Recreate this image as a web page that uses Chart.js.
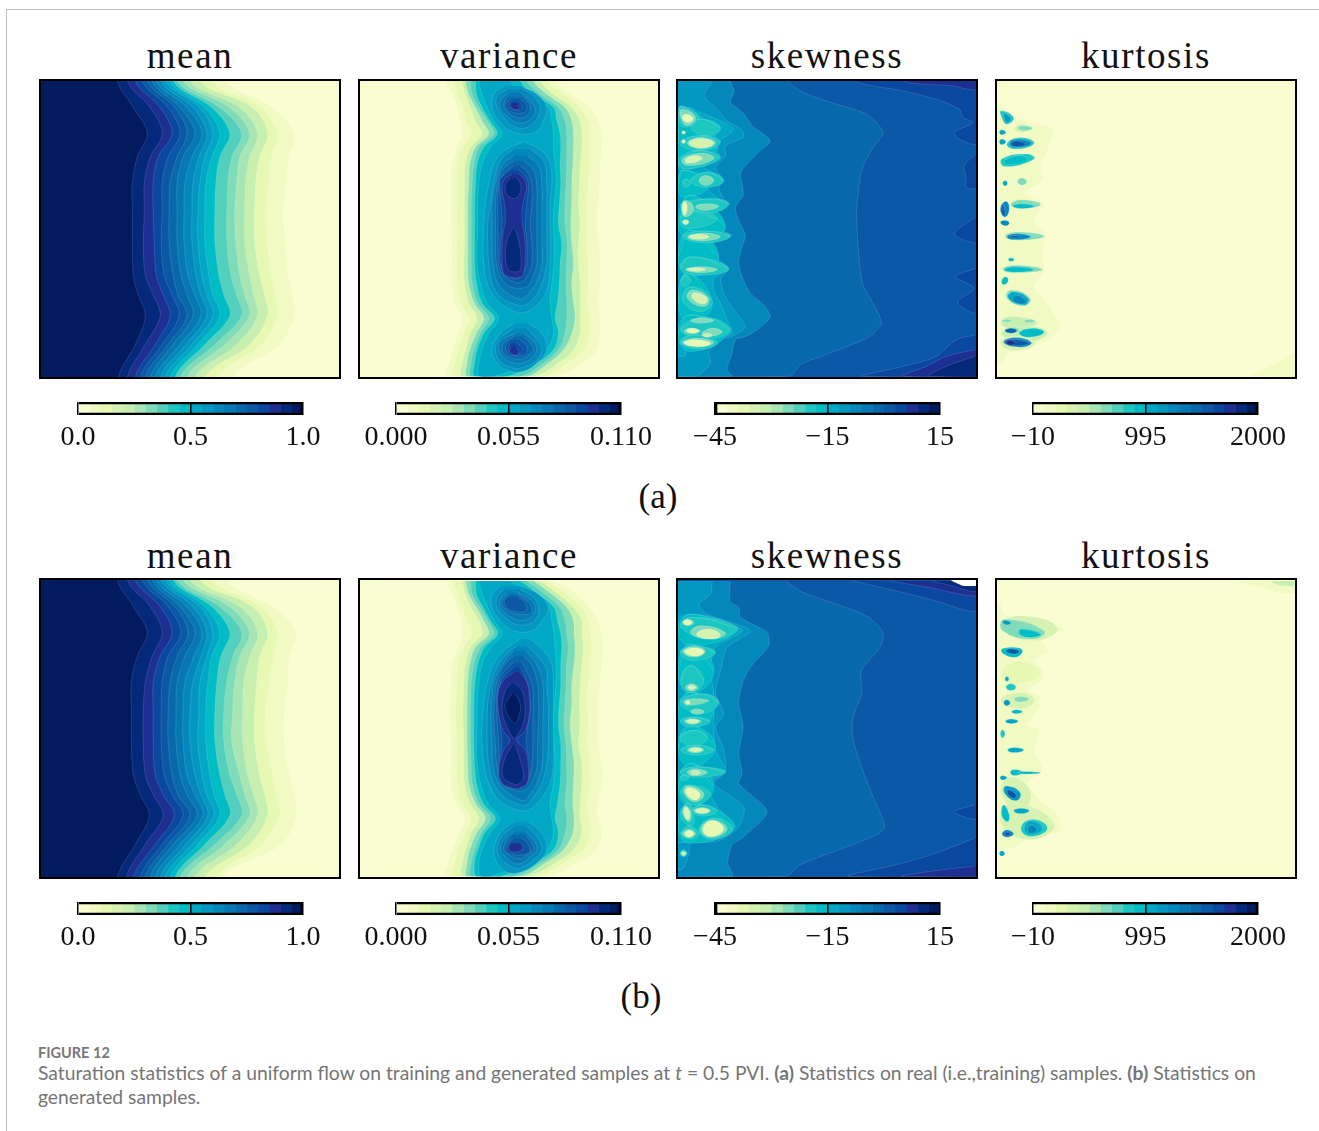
<!DOCTYPE html>
<html lang="en">
<head>
<meta charset="UTF-8">
<title>Figure 12</title>
<style>
  html, body { margin: 0; background: #fff; }
  body { position: relative; width: 1319px; height: 1131px; overflow: hidden; }
  .rule-top { position: absolute; left: 6px; top: 9px; width: 1313px; height: 1px; background: #bdbdbd; }
  .rule-left { position: absolute; left: 6px; top: 9px; width: 1px; height: 1122px; background: #bdbdbd; }
  .frame { position: absolute; width: 302px; box-sizing: border-box; border: 2px solid #000; }
  .frame canvas { position: absolute; left: 0; top: 0; }
  .bar { position: absolute; }
  .title, .sub { position: absolute; font-family: 'Liberation Serif', serif; color: #111; transform: translateX(-50%); white-space: nowrap; }
  .title { font-size: 37px; letter-spacing: 1.6px; }
  .sub { font-size: 35px; }
  .caption { position: absolute; left: 38px; top: 1044px; width: 1270px; font-family: Lato, sans-serif; color: #757575; font-size: 19.3px; line-height: 24px; }
  .caption .fig { display: block; font-size: 14.5px; font-weight: 700; line-height: 17px; color: #777; }
</style>
</head>
<body>
<div class="rule-top"></div>
<div class="rule-left"></div>
<div id="page"></div>
<div class="caption">
  <span class="fig">FIGURE 12</span>
  Saturation statistics of a uniform flow on training and generated samples at <i>t</i> = 0.5 PVI. <b>(a)</b> Statistics on real (i.e.,training) samples. <b>(b)</b> Statistics on<br>generated samples.
</div>

<script src="https://cdn.jsdelivr.net/npm/chart.js"></script>
<script>
// colour levels of the colourbars, low to high
const levels = ['#fafdd1','#f1fac2','#e6f8b2','#d6f2b1','#c6efb0','#a8e5b4','#80dbb8','#52d0bd','#1cc7c2','#00bcc4',
                '#00a8c6','#0298c2','#0488bc','#0678b4','#0868ac','#0a58a6','#0a48a0','#1e2f92','#04287a','#021a5e'];

const titles = ['mean', 'variance', 'skewness', 'kurtosis'];
const barRanges = [[0, 1], [0, 0.11], [-45, 15], [-10, 2000]];
const barTicks = [[0, 0.5, 1], [0, 0.055, 0.11], [-45, -15, 15], [-10, 995, 2000]];
const barLabels = [['0.0', '0.5', '1.0'], ['0.000', '0.055', '0.110'], ['\u221245', '\u221215', '15'], ['\u221210', '995', '2000']];

// mean: position of each contour per row, grid 0-300
const meanRows = [0, 27, 53, 77, 103, 133, 163, 197, 217, 238, 267, 300];
const meanLevels = [19, 18, 17, 16, 15, 14, 13, 12, 11, 10, 9, 7, 6, 5, 4, 2, 1];
const meanA = [
  [77,93,107,97,92,92,92,93,98,105,95,78],
  [87,110,122,110,104,104,103,105,113,120,105,87],
  [95,120,132,118,113,113,114,116,123,130,115,95],
  [102,128,140,128,122,122,121,124,132,139,122,100],
  [107,135,147,137,130,129,129,133,138,147,128,105],
  [112,140,155,143,137,137,137,141,147,153,133,110],
  [116,147,162,152,145,144,144,148,155,161,140,115],
  [121,153,167,159,153,152,152,156,161,167,146,120],
  [125,160,173,165,160,158,158,162,167,173,152,125],
  [129,165,180,172,166,165,165,169,173,180,158,130],
  [133,172,190,180,176,175,175,179,184,190,165,135],
  [137,180,202,192,188,187,187,191,197,202,175,140],
  [143,190,210,200,197,195,196,200,205,210,185,147],
  [150,200,218,210,206,205,205,210,214,218,197,155],
  [160,213,228,220,216,215,215,220,225,228,210,165],
  [172,222,238,232,229,227,228,232,236,238,222,178],
  [187,233,255,250,247,244,246,249,253,255,240,193]
];
const meanB = [
  [77,93,107,97,91,91,91,93,100,109,95,77],
  [87,110,122,112,105,103,103,105,113,123,105,86],
  [95,120,132,120,113,113,113,115,123,134,115,93],
  [102,128,141,128,122,121,121,124,132,143,122,100],
  [107,135,148,137,130,128,128,132,138,150,128,105],
  [112,140,155,145,137,136,136,140,147,157,133,110],
  [116,147,162,154,145,143,143,147,155,163,140,115],
  [121,153,167,161,153,150,150,155,161,168,146,120],
  [125,160,173,167,160,159,158,162,167,174,152,125],
  [129,165,180,172,168,166,166,170,174,180,158,130],
  [133,172,190,181,177,175,175,180,185,190,165,135],
  [137,180,202,193,187,184,184,190,197,202,175,140],
  [143,190,210,200,195,193,192,200,205,210,185,147],
  [150,200,218,210,204,203,203,208,214,218,197,155],
  [160,213,228,220,217,215,215,220,225,228,210,165],
  [172,222,238,234,230,226,227,233,237,240,222,178],
  [187,233,257,250,249,245,245,250,255,257,242,183]
];

// variance: outer contours, [level, left edge, right edge] per row
const varRows = [30,70,110,150,190,230,280,340,400,460,520,580,640,700,745,790,840,880,920];
const varOuterA = [
  [1,[285,305,320,328,335,320,305,300,300,302,303,303,303,312,335,322,305,295,285],[615,660,720,745,755,755,752,750,745,740,748,750,750,745,750,750,740,700,610]],
  [2,[310,320,335,345,360,335,320,318,318,320,320,320,320,330,355,340,322,312,305],[590,640,690,715,720,720,718,715,712,712,712,715,715,712,718,718,700,650,580]],
  [4,[335,345,360,375,395,360,345,342,342,342,342,340,342,355,380,360,345,335,335],[570,610,665,690,695,695,690,688,685,690,685,685,690,690,690,690,670,625,550]],
  [6,[345,355,375,395,415,375,358,355,352,352,352,352,355,372,400,378,358,350,350],[550,590,645,665,670,670,668,665,665,662,665,670,665,670,675,665,640,595,530]],
  [7,[360,365,385,410,430,385,370,365,362,362,362,362,365,382,415,390,370,362,362],[530,570,625,645,650,650,650,648,645,645,652,650,648,650,650,645,625,580,510]],
  [9,[375,378,395,418,440,400,380,375,372,372,372,372,378,395,432,400,380,372,372],[510,550,610,620,630,632,630,632,628,625,635,630,628,622,615,625,610,560,470]],
  [10,[385,395,410,430,455,420,395,385,382,382,380,380,390,410,445,415,395,385,385],[480,530,595,605,610,610,615,618,612,610,612,612,605,600,605,610,590,540,430]]
];
const varOuterB = [
  [1,[285,305,320,330,335,325,305,300,298,298,300,300,300,315,342,325,305,292,285],[615,680,720,745,755,758,755,750,745,745,745,755,755,745,745,755,740,680,590]],
  [2,[310,320,335,350,362,340,322,318,316,316,318,318,320,332,360,342,322,312,305],[590,650,695,715,722,725,720,715,712,715,712,720,722,712,718,722,700,640,560]],
  [4,[335,345,362,385,395,360,345,340,338,338,340,340,342,358,385,362,345,335,335],[570,625,670,695,695,700,695,690,688,690,685,695,695,690,690,695,670,615,530]],
  [6,[345,355,378,400,415,375,358,352,350,350,350,352,355,375,405,378,358,350,350],[550,605,650,670,672,675,672,665,665,660,665,672,670,668,672,668,640,585,510]],
  [7,[360,365,388,412,430,390,370,362,360,360,360,362,365,385,420,392,372,362,362],[530,585,630,645,650,655,650,648,645,642,648,650,650,645,650,645,625,570,490]],
  [9,[375,378,398,420,442,402,382,373,370,370,370,372,378,398,435,402,382,372,378],[510,565,612,622,632,635,632,632,628,625,632,632,630,622,615,625,610,550,450]],
  [10,[385,395,412,432,455,422,395,385,380,380,378,380,390,412,448,418,395,385,390],[480,545,598,605,612,615,618,618,612,610,612,615,610,600,605,610,590,530,420]]
];
// variance: closed islands, [level, [row, left, right], ...]
const varIslandsA = [
  [11,[45,460,510],[70,430,560],[110,425,590],[150,445,580],[185,490,555]],
  [11,[215,515,525],[240,460,575],[280,430,600],[340,415,605],[400,405,600],[460,400,600],[520,398,602],[580,400,600],[640,410,595],[690,440,575],[725,495,530]],
  [11,[760,490,535],[790,450,575],[840,425,590],[880,440,560],[905,480,520]],
  [12,[55,470,520],[75,440,550],[110,440,570],[145,465,560],[170,500,530]],
  [12,[235,490,540],[270,450,580],[340,430,590],[400,420,590],[460,412,590],[520,412,590],[580,415,590],[640,425,575],[680,450,555],[705,500,525]],
  [12,[775,490,530],[810,445,560],[840,435,575],[875,450,555],[895,490,510]],
  [13,[65,475,510],[90,450,540],[115,450,555],[140,475,545],[155,500,525]],
  [13,[255,490,530],[285,455,565],[340,435,575],[400,425,575],[460,425,575],[520,425,575],[580,428,575],[635,440,560],[665,465,540],[685,500,520]],
  [13,[790,495,520],[815,450,550],[840,445,560],[868,465,540],[880,490,515]],
  [14,[80,470,520],[105,460,540],[130,480,535],[140,500,520]],
  [14,[270,490,520],[300,455,550],[350,440,560],[400,435,560],[460,435,560],[520,435,560],[580,438,560],[620,450,548],[650,480,530]],
  [14,[800,490,520],[820,460,540],[840,455,550],[860,470,530],[868,495,510]],
  [15,[85,480,510],[105,465,530],[125,490,520]],
  [15,[285,490,510],[310,460,535],[350,445,545],[400,442,545],[460,443,540],[520,443,545],[580,445,545],[610,455,535],[635,490,515]],
  [15,[810,480,510],[830,465,530],[855,475,525],[858,495,505]],
  [16,[92,485,505],[105,475,515],[118,495,510]],
  [16,[298,480,505],[325,450,530],[350,448,535],[400,452,530],[460,455,525],[520,450,530],[580,450,530],[605,465,520],[625,490,505]],
  [16,[820,480,500],[835,473,515],[850,480,510]],
  [17,[97,480,505],[105,480,505],[115,490,505]],
  [17,[310,485,505],[330,460,525],[360,455,528],[400,462,518],[450,465,515],[490,458,522],[550,455,525],[610,460,520],[622,485,505]],
  [17,[830,482,498],[845,478,505],[855,490,500]],
  [18,[323,480,500],[345,465,512],[370,468,508],[383,485,495]],
  [18,[478,485,495],[510,470,505],[560,465,512],[600,475,510],[605,490,500]]
];
const varIslandsB = [
  [11,[45,450,510],[70,425,565],[110,425,595],[150,450,575],[180,490,545]],
  [11,[205,510,540],[240,460,580],[280,430,605],[340,410,610],[400,400,610],[460,395,610],[520,395,610],[580,400,610],[640,415,600],[690,445,570],[720,500,535]],
  [11,[755,490,535],[790,450,575],[840,430,590],[880,440,560],[908,470,510]],
  [12,[55,460,510],[80,440,550],[110,440,565],[140,465,560],[160,495,535]],
  [12,[225,500,530],[260,460,565],[300,435,590],[350,420,590],[400,412,595],[460,410,595],[520,410,595],[580,415,590],[640,430,575],[680,460,550],[705,510,530]],
  [12,[770,490,530],[800,455,560],[840,440,575],[870,455,550],[895,490,510]],
  [13,[65,470,500],[85,450,540],[110,450,555],[135,475,545],[148,505,525]],
  [13,[240,490,525],[275,460,555],[320,435,575],[380,425,580],[450,422,578],[520,425,578],[590,428,575],[640,445,560],[670,475,540],[690,510,525]],
  [13,[785,490,525],[810,460,550],[840,450,560],[860,465,540],[880,490,515]],
  [14,[72,475,505],[90,455,530],[110,460,545],[128,490,540]],
  [14,[255,490,520],[285,460,545],[330,440,560],[390,432,565],[450,430,565],[520,435,562],[590,440,560],[635,455,545],[660,490,525]],
  [14,[795,485,525],[820,465,545],[840,460,550],[855,475,530],[865,495,515]],
  [15,[80,470,505],[90,462,520],[110,468,530],[122,495,525]],
  [15,[275,490,515],[305,460,530],[340,445,545],[400,438,550],[450,440,548],[520,445,548],[590,448,545],[630,465,535],[650,495,515]],
  [15,[805,490,515],[825,470,535],[845,468,540],[855,490,520]],
  [16,[290,490,510],[320,460,525],[360,445,535],[410,442,540],[470,450,532],[520,455,528],[590,445,540],[630,460,530],[645,490,510]],
  [17,[305,490,510],[335,455,530],[380,442,538],[430,445,538],[480,458,525],[510,478,500],[540,460,525],[600,445,535],[640,455,530],[655,490,505]],
  [17,[820,480,510],[833,475,518],[845,480,505]],
  [18,[340,480,495],[360,465,515],[420,455,525],[470,470,515],[505,490,495]],
  [18,[525,485,495],[570,462,510],[620,458,520],[642,490,505]],
  [19,[370,485,495],[400,465,510],[430,470,508],[458,490,498]]
];

// skewness / kurtosis: left attached bands, [level, row, x, row, x, ...]
const skewBandsA = [
  [14, 30,355, 65,400, 100,500, 130,590, 185,640, 230,610, 300,575, 370,565, 430,560, 530,565, 640,578, 700,610, 760,635, 800,600, 850,480, 885,390, 920,358],
  [12, 30,180, 60,190, 95,180, 115,205, 135,225, 165,245, 210,300, 240,270, 285,225, 310,210, 340,215, 375,218, 410,195, 450,205, 495,225, 530,215, 575,205, 620,215, 670,240, 700,275, 740,300, 780,260, 800,225, 810,195, 850,185, 900,170, 920,185],
  [11, 30,125, 75,100, 110,135, 150,170, 178,215, 200,218, 225,165, 255,165, 290,135, 325,155, 355,145, 385,160, 400,175, 425,135, 470,130, 495,185, 520,130, 560,135, 595,175, 625,150, 670,160, 720,190, 770,225, 800,185, 810,140, 850,115, 880,120, 920,75],
  [10, 108,55, 125,90, 150,150, 175,190, 210,150, 240,140, 265,150, 290,100, 320,150, 350,110, 385,145, 400,170, 430,120, 480,135, 495,180, 510,130, 560,110, 595,170, 625,130, 665,130, 700,150, 750,170, 790,185, 810,130, 840,50, 860,40]
];
const skewBandsB = [
  [14, 30,345, 65,400, 100,500, 135,590, 185,640, 230,630, 300,575, 370,575, 440,550, 500,548, 590,575, 680,610, 770,645, 795,620, 850,480, 885,390, 920,345],
  [12, 30,180, 90,178, 110,205, 140,210, 185,290, 225,295, 290,240, 340,215, 400,205, 470,218, 550,205, 610,215, 640,205, 725,290, 805,215, 825,185, 880,172, 920,185],
  [11, 30,125, 70,120, 100,85, 130,110, 180,240, 230,170, 300,150, 370,135, 430,160, 470,135, 540,160, 605,165, 640,130, 710,220, 770,205, 815,140, 820,60, 850,55, 900,30],
  [10, 130,70, 150,145, 180,215, 230,135, 300,120, 370,130, 430,130, 470,130, 540,135, 605,165, 640,110, 710,140, 770,195, 810,130, 818,40]
];
const kurtBandsA = [
  [1, 100,30, 140,70, 175,190, 210,180, 250,165, 290,150, 330,155, 370,100, 400,160, 450,130, 490,165, 540,155, 600,160, 650,130, 700,170, 770,210, 800,185, 830,130, 850,50, 880,35]
];
const kurtBandsB = [
  [1, 100,30, 130,40, 145,110, 175,220, 205,150, 240,170, 270,130, 300,155, 330,150, 360,110, 380,150, 420,140, 465,110, 480,145, 540,130, 600,155, 640,110, 700,160, 740,205, 785,205, 810,110, 840,50]
];
// right attached bands
const skewEdgesA = [
  [16, 30,555, 60,700, 85,800, 115,870, 140,880, 155,912, 185,855, 205,870, 222,918],
  [17, 30,700, 45,850, 58,918],
  [16, 250,918, 285,885, 320,890, 350,890, 355,918],
  [16, 440,918, 490,855, 518,918],
  [16, 595,918, 620,858, 655,915, 695,865, 730,918],
  [16, 795,918, 810,860, 860,800, 890,700, 920,580],
  [17, 840,915, 860,830, 890,770, 920,700],
  [18, 860,915, 890,830, 920,780]
];
const skewEdgesB = [
  [16, 30,550, 60,680, 90,800, 122,915],
  [17, 30,660, 50,780, 75,915],
  [18, 30,790, 45,850, 62,915],
  [16, 705,915, 725,855, 748,915],
  [16, 805,915, 850,800, 885,680, 920,540],
  [17, 890,915, 900,820, 920,700]
];
const kurtEdgesA = [
  [1, 850,905, 870,880, 900,820, 920,780]
];
const kurtEdgesB = [
  [1, 30,720, 45,800, 68,880],
  [4, 30,840, 45,875]
];
const skewWhiteB = [[27,845,930],[34,856,930],[44,880,930],[45,930,930]];
// skewness / kurtosis: blobs, [level, top row, top x, middle row, left, right, bottom row, bottom x]
const skewBlobsA = [
  [9,105,30,220,22,140,300,30],[9,300,40,340,22,120,380,40],[9,375,60,470,22,165,500,60],[9,480,60,560,22,145,620,60],[9,610,50,700,22,125,760,60],[9,735,60,790,22,165,845,60],
  [8,108,30,140,25,85,170,40],[8,145,90,170,60,150,195,110],[8,195,90,215,28,150,240,80],[8,240,90,262,28,148,295,40],
  [8,305,110,330,60,160,350,110],[8,325,45,338,35,60,350,45],[8,385,130,402,30,175,428,110],[8,420,50,445,28,140,475,50],
  [8,482,100,498,35,180,518,100],[8,560,60,595,30,175,615,90],[8,615,45,632,30,60,650,40],[8,650,60,690,35,125,725,90],
  [8,742,100,780,30,180,805,110],[8,795,70,818,28,140,838,90],
  [6,115,35,140,30,75,165,50],[6,200,90,217,50,135,235,90],[6,248,100,265,35,130,285,50],[6,315,105,330,85,130,345,105],
  [6,390,45,415,32,70,440,45],[6,400,110,408,75,145,420,100],[6,488,100,500,50,150,512,90],[6,590,90,598,45,140,608,90],
  [6,660,65,685,50,115,710,100],[6,775,130,788,95,155,800,105],[6,745,90,752,60,130,760,90],[6,775,60,784,40,90,792,60],[6,805,80,818,35,130,832,80],
  [2,130,45,142,35,68,155,52],[2,180,39,185,33,45,190,39],[2,207,39,212,33,45,218,39],[3,203,90,217,55,130,232,90],
  [3,255,80,265,45,95,278,50],[2,392,42,412,35,50,435,42],[3,448,45,455,35,55,463,45],[3,492,85,499,55,115,507,85],
  [3,593,80,598,50,105,604,80],[3,668,70,685,65,110,702,100],[2,775,65,782,48,85,790,65],[2,810,70,820,40,120,830,90],[4,790,110,796,95,125,802,110]
];
const skewBlobsB = [
  [9,130,60,180,22,190,225,60],[9,220,60,300,22,130,370,60],[9,365,60,420,22,130,475,60],[9,465,60,530,22,135,590,60],[9,580,60,650,22,130,710,60],[9,700,60,770,22,190,820,60],
  [8,140,60,170,30,200,205,130],[8,225,70,245,28,135,270,70],[8,285,60,330,30,100,365,60],[8,370,90,395,28,145,430,90],
  [8,440,65,453,28,120,470,65],[8,480,70,500,28,110,530,70],[8,525,75,539,30,130,555,75],[8,590,80,605,28,165,622,80],[8,615,40,623,28,55,632,40],
  [8,645,50,670,30,120,705,70],[8,700,50,735,30,70,770,60],[8,705,95,722,60,140,738,95],[8,745,130,778,85,185,808,120],[8,770,55,792,30,85,808,55],[8,840,38,851,28,50,862,38],
  [6,145,50,155,35,70,165,50],[6,165,90,187,60,165,205,120],[6,228,70,242,35,105,260,70],[6,340,62,351,45,82,362,62],[6,385,80,392,40,115,405,50],
  [6,416,80,424,60,100,432,80],[6,445,65,453,40,92,462,65],[6,530,75,539,50,100,548,75],[6,596,70,607,50,110,618,70],
  [6,648,50,670,40,100,695,75],[6,708,45,730,36,62,755,55],[6,713,95,722,68,120,732,95],[6,750,125,778,90,170,803,120],[6,778,55,792,35,75,804,55],
  [2,147,50,155,38,64,163,50],[3,175,110,192,78,150,205,125],[2,232,70,243,42,100,256,75],[3,345,62,351,52,75,358,62],[2,390,52,396,45,58,402,52],
  [3,447,65,453,48,85,460,65],[3,533,75,539,56,95,545,75],[4,600,72,607,60,90,615,72],[2,653,52,670,46,88,690,75],
  [3,715,95,722,75,115,730,95],[3,712,45,730,40,58,750,52],[2,752,125,778,97,160,800,120],[2,782,55,792,42,70,802,55],[3,845,38,851,32,46,858,38]
];
const kurtBlobsA = [
  [4,740,60,760,30,140,775,60],[4,770,120,790,30,170,815,110],[3,800,70,820,28,135,842,70],[3,160,90,172,70,125,185,90],
  [8,120,30,140,32,68,160,48],[11,128,38,142,40,60,155,48],[6,165,95,172,80,125,180,100],
  [10,177,32,185,25,45,192,32],[10,205,32,213,25,45,222,32],
  [8,200,90,218,48,130,235,70],[12,205,80,218,55,122,230,75],[15,210,75,220,60,105,228,75],
  [8,250,110,265,32,130,288,42],[9,255,90,268,42,112,282,48],
  [6,322,93,333,80,108,344,93],[10,330,43,338,35,50,346,43],
  [6,388,90,402,60,150,415,90],[9,400,90,407,65,130,414,95],[12,392,45,415,28,55,440,42],[14,400,35,420,30,42,438,40],
  [12,450,40,457,28,55,466,45],[6,485,80,498,42,160,510,80],[12,490,75,499,48,120,508,70],[14,495,70,499,58,90,503,70],
  [9,563,60,568,52,70,574,60],[6,585,70,598,35,155,608,70],[9,590,70,598,40,130,606,70],
  [9,620,44,632,32,52,644,38],[6,660,60,685,48,118,708,100],[10,665,65,685,52,112,705,100],[12,675,75,690,65,105,702,95],
  [6,748,50,752,32,62,757,50],[6,748,115,753,100,132,758,115],
  [9,775,130,788,85,160,802,110],[6,772,70,781,40,85,790,65],[14,775,60,782,42,78,790,60],
  [12,803,70,818,38,122,832,90],[15,808,60,818,42,115,828,80],[17,810,55,818,46,75,826,60]
];
const kurtBlobsB = [
  [3,135,80,170,30,200,210,130],[2,270,80,310,30,150,340,60],[3,365,90,390,30,130,415,90],[3,620,60,670,30,120,720,90],[3,700,60,760,30,190,810,120],
  [6,145,40,180,35,160,205,130],[9,175,90,190,85,150,200,120],[11,148,40,155,35,60,162,50],
  [9,230,65,240,30,95,260,70],[15,234,60,241,45,85,250,70],[8,340,60,350,45,75,360,60],[10,318,48,325,42,54,332,48],
  [6,378,90,385,70,115,395,85],[11,388,47,397,38,58,406,47],[9,418,75,424,62,95,430,75],[10,446,60,453,43,82,460,60],
  [8,478,35,490,28,42,502,35],[10,532,70,539,50,98,547,70],[9,598,70,606,58,95,616,70],[9,604,100,608,80,150,612,100],[10,616,35,623,27,48,630,35],
  [11,648,45,668,40,88,692,75],[15,658,50,672,50,75,685,70],[9,705,38,735,32,55,755,50],[10,715,90,722,68,115,731,90],
  [8,748,125,775,90,170,800,120],[10,752,120,775,100,155,795,120],[12,765,120,777,110,140,790,120],
  [12,780,48,792,33,68,802,48],[15,786,48,792,40,60,798,48],[10,843,32,851,25,42,859,32]
];

const CONTOUR = 'rgba(255,255,255,0.22)';
const OUT = 2000; // far outside the panel, the axes clip it

function rowPoints(rows, yMin, yMax) {
  const r = rows.slice();
  if (r[0][0] <= yMin) r.unshift([yMin - 40, r[0][1], r[0][2]]);
  if (r[r.length - 1][0] >= yMax) r.push([yMax + 40, r[r.length - 1][1], r[r.length - 1][2]]);
  const pts = r.map(p => ({ x: p[1], y: p[0] }));
  r.slice().reverse().forEach(p => pts.push({ x: p[2], y: p[0] }));
  return pts;
}

function shape(color, data, tension) {
  return {
    data: data,
    showLine: true,
    fill: 'shape',
    tension: tension,
    pointRadius: 0,
    borderWidth: 0.6,
    borderColor: CONTOUR,
    backgroundColor: color
  };
}

function bandRows(flat, side) {
  const rows = [];
  for (let i = 1; i < flat.length; i += 2) {
    rows.push(side === 'left' ? [flat[i], -OUT, flat[i + 1]] : [flat[i], flat[i + 1], OUT]);
  }
  return rows;
}

// a blob runs round once and a bit, so the curve has no tip where the path closes
function blobPoints(b) {
  const top = { x: b[2], y: b[1] }, left = { x: b[4], y: b[3] };
  const bottom = { x: b[7], y: b[6] }, right = { x: b[5], y: b[3] };
  return [right, top, left, bottom, right, top, left].map(p => ({ x: p.x, y: p.y }));
}

function meanSets(curves) {
  // the widest contour goes first, the darkest ends on top
  const out = [];
  for (let i = curves.length - 1; i >= 0; i--) {
    const rows = meanRows.map((y, j) => [y, -OUT, curves[i][j]]);
    out.push(shape(levels[meanLevels[i]], rowPoints(rows, 0, 300), 0.35));
  }
  return out;
}

function varSets(outer, islands, yMin, yMax) {
  const out = outer.map(o => shape(levels[o[0]], rowPoints(varRows.map((y, j) => [y, o[1][j], o[2][j]]), yMin, yMax), 0.35));
  islands.forEach(s => out.push(shape(levels[s[0]], rowPoints(s.slice(1), yMin, yMax), 0.4)));
  return out;
}

function patchSets(edges, bands, blobs, yMin, yMax) {
  const out = [];
  edges.forEach(e => out.push(shape(levels[e[0]], rowPoints(bandRows(e, 'right'), yMin, yMax), 0.3)));
  bands.forEach(b => out.push(shape(levels[b[0]], rowPoints(bandRows(b, 'left'), yMin, yMax), 0.25)));
  blobs.forEach(b => out.push(shape(levels[b[0]], blobPoints(b), 0.5)));
  return out;
}

function drawPanel(left, top, height, xRange, yRange, base, sets) {
  const frame = document.createElement('div');
  frame.className = 'frame';
  frame.style.left = (left - 1) + 'px';
  frame.style.top = top + 'px';
  frame.style.height = height + 'px';
  frame.style.background = base;
  const canvas = document.createElement('canvas');
  frame.appendChild(canvas);
  document.getElementById('page').appendChild(frame);
  canvas.width = 298; canvas.height = height - 4;
  canvas.style.width = '298px'; canvas.style.height = (height - 4) + 'px';
  sets.forEach((d, i) => { d.order = -i; });
  new Chart(canvas, {
    type: 'scatter',
    data: { datasets: sets },
    options: {
      responsive: false,
      animation: false,
      events: [],
      layout: { padding: 0 },
      plugins: { legend: { display: false }, tooltip: { enabled: false } },
      scales: {
        x: { type: 'linear', display: false, min: xRange[0], max: xRange[1] },
        y: { type: 'linear', display: false, reverse: true, min: yRange[0], max: yRange[1] }
      }
    }
  });
}

function drawBar(left, top, col) {
  const range = barRanges[col];
  const pad = 44;
  const canvas = document.createElement('canvas');
  canvas.className = 'bar';
  canvas.style.left = (left - pad) + 'px';
  canvas.style.top = top + 'px';
  canvas.style.width = (225 + 2 * pad) + 'px';
  canvas.style.height = '56px';
  canvas.width = 225 + 2 * pad; canvas.height = 56;
  document.getElementById('page').appendChild(canvas);
  const step = (range[1] - range[0]) / levels.length;
  const sets = levels.map((c, i) => ({
    data: [[range[0] + i * step, range[0] + (i + 1) * step]],
    backgroundColor: c, borderWidth: 0, grouped: false, barPercentage: 1, categoryPercentage: 1, order: 2
  }));
  sets.push({ data: [[range[0], range[1]]], backgroundColor: 'rgba(0,0,0,0)', borderColor: '#000', borderWidth: 2, grouped: false,
    barPercentage: 1, categoryPercentage: 1, order: 1 });
  new Chart(canvas, {
    type: 'bar',
    data: { labels: [''], datasets: sets },
    options: {
      indexAxis: 'y',
      responsive: false,
      animation: false,
      events: [],
      layout: { padding: { left: pad, right: pad, top: 1, bottom: 0 } },
      plugins: { legend: { display: false }, tooltip: { enabled: false } },
      scales: {
        x: {
          type: 'linear', min: range[0], max: range[1],
          afterBuildTicks: s => { s.ticks = barTicks[col].map(v => ({ value: v })); },
          afterFit: s => { s.height = 42; },
          border: { display: false },
          grid: { color: '#000', lineWidth: 1.5, z: 1, drawTicks: false },
          ticks: {
            autoSkip: false, maxRotation: 0, padding: 6, color: '#111',
            font: { family: "'Liberation Serif', serif", size: 28 },
            callback: (v, i) => barLabels[col][i]
          }
        },
        y: { display: false }
      }
    }
  });
}

function addText(cls, text, x, y) {
  const el = document.createElement('div');
  el.className = cls;
  el.textContent = text;
  el.style.left = x + 'px';
  el.style.top = y + 'px';
  document.getElementById('page').appendChild(el);
}

const panelLeft = [40, 359, 677, 996];
const barLeft = [78, 396, 715, 1033];
const pale = levels[0];
const skewExtraB = [shape('#ffffff', rowPoints(skewWhiteB, 27, 922), 0.2)];
const rowsPanels = [
  { top: 79, height: 300, titleTop: 34, barTop: 401, sets: [
    [[0, 300], [0, 300], pale, meanSets(meanA)],
    [[27, 925], [30, 922], pale, varSets(varOuterA, varIslandsA, 30, 922)],
    [[22, 920], [30, 922], levels[15], patchSets(skewEdgesA, skewBandsA, skewBlobsA, 30, 922)],
    [[18, 916], [30, 922], pale, patchSets(kurtEdgesA, kurtBandsA, kurtBlobsA, 30, 922)]
  ] },
  { top: 578, height: 301, titleTop: 534, barTop: 901, sets: [
    [[0, 300], [0, 300], pale, meanSets(meanB)],
    [[27, 925], [27, 922], pale, varSets(varOuterB, varIslandsB, 27, 922)],
    [[22, 920], [27, 922], levels[15], patchSets(skewEdgesB, skewBandsB, skewBlobsB, 27, 922).concat(skewExtraB)],
    [[18, 916], [27, 922], pale, patchSets(kurtEdgesB, kurtBandsB, kurtBlobsB, 27, 922)]
  ] }
];

rowsPanels.forEach(row => {
  row.sets.forEach((p, col) => {
    drawPanel(panelLeft[col], row.top, row.height, p[0], p[1], p[2], p[3]);
    addText('title', titles[col], panelLeft[col] + 150, row.titleTop);
    drawBar(barLeft[col], row.barTop, col);
  });
});
addText('sub', '(a)', 658, 477);
addText('sub', '(b)', 641, 977);
</script>
</body>
</html>
